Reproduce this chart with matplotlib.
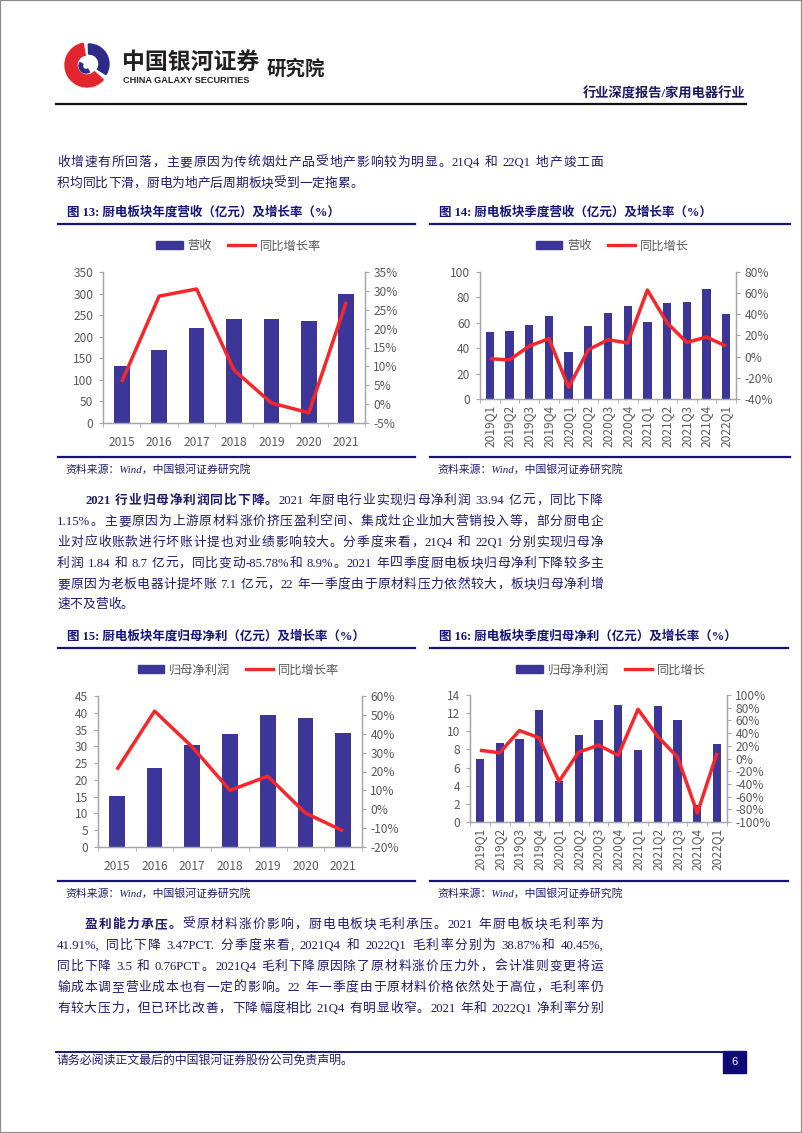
import numpy as np
import matplotlib
matplotlib.use('Agg')
import matplotlib.pyplot as plt
from matplotlib.patches import Rectangle, Wedge
from matplotlib.lines import Line2D
from matplotlib.ticker import FuncFormatter

plt.rcParams['axes.unicode_minus'] = False

# ---- data ----
years = ['2015', '2016', '2017', '2018', '2019', '2020', '2021']
quarters = ['2019Q1', '2019Q2', '2019Q3', '2019Q4', '2020Q1', '2020Q2', '2020Q3',
            '2020Q4', '2021Q1', '2021Q2', '2021Q3', '2021Q4', '2022Q1']

rev_year = [131, 169, 221, 241, 241, 236, 300]
rev_year_yoy = [5.9, 28.6, 30.5, 9.0, 0.3, -2.3, 27.1]

rev_q = [52.6, 53.7, 58.2, 65.0, 37.1, 57.4, 67.6, 73.2, 60.8, 75.8, 76.0, 86.6, 67.1]
rev_q_yoy = [-2, -3, 10, 17, -29, 6.5, 16, 13, 63, 32, 13.5, 18.5, 10]

np_year = [15.3, 23.4, 30.5, 33.6, 39.2, 38.5, 33.94]
np_year_yoy = [21, 52, 33, 10, 17.5, -2, -11.5]

np_q = [7.0, 8.7, 9.2, 12.4, 4.5, 9.6, 11.2, 12.9, 7.95, 12.8, 11.2, 1.84, 8.65]
np_q_yoy = [13, 9, 44, 32.5, -36, 10, 21, 5, 77.5, 34.5, 2, -85.78, 8.9]

W, H = 802, 1133
BAR = '#3C3698'
RED = '#F7262B'
NAVY = '#14137A'
TXT = '#1F1B6E'
GRAY = '#595959'
CH = ['Noto Sans CJK SC', 'DejaVu Sans']
BODY = ['Liberation Serif', 'Noto Sans CJK SC']


def fx(x):
    return x / W


def fy(y):
    return 1 - y / H


fig = plt.figure(figsize=(W / 100, H / 100), dpi=100)
renderer = fig.canvas.get_renderer()

# page border
fig.patches.append(Rectangle((0, 0), 1, 1, transform=fig.transFigure, fill=False,
                             ec='#8C8C8C', lw=1.6))

# ---- header ----
lax = fig.add_axes([fx(62), fy(88), 51 / W, 46 / H])
lax.set_xlim(0, 51)
lax.set_ylim(0, 46)
lax.axis('off')
lax.add_patch(Wedge((25, 23), 22, 100, 318, width=12, color='#E1262D'))
lax.add_patch(Wedge((27, 24), 20, -32, 92, width=10, color='#2D2A88'))
lax.add_patch(Wedge((24, 22), 7, 150, 300, width=3.5, color='#2D2A88'))

fig.text(fx(122), fy(62), '中国银河证券', family=CH, fontsize=16.5, weight='bold',
         color='#231F20', va='center', ha='left')
fig.text(fx(123), fy(80.5), 'CHINA GALAXY SECURITIES', family='Liberation Sans',
         fontsize=6.6, weight='bold', color='#231F20', va='center', ha='left')
fig.text(fx(267), fy(69), '研究院', family=CH, fontsize=14, weight='bold',
         color='#231F20', va='center', ha='left')
fig.text(fx(745), fy(94), '行业深度报告/家用电器行业', family=BODY, fontsize=9.5,
         weight='bold', color='#1C1A5E', va='center', ha='right')
fig.add_artist(Line2D([fx(56), fx(746)], [fy(104), fy(104)], color='#111111', lw=1.6))


# ---- body text ----
def tokenize(s):
    toks, buf = [], ''
    for ch in s:
        if ord(ch) > 0x2E80 or ch == ' ':
            if buf:
                toks.append(buf)
                buf = ''
            toks.append(ch)
        else:
            buf += ch
    if buf:
        toks.append(buf)
    return toks


def line(segs, y, x0=57, x1=603, justify=True, size=9.2):
    items = []
    for s, bold in segs:
        items += [(t, bold) for t in tokenize(s)]
    objs, widths = [], []
    base = y + size * 100 / 72 * 0.36
    for tok, bold in items:
        if tok == ' ':
            objs.append(None)
            widths.append(size * 100 / 72 * 0.25)
            continue
        t = fig.text(0, fy(base), tok, fontsize=size, family=BODY,
                     weight='bold' if bold else 'normal', color=TXT,
                     va='baseline', ha='left')
        objs.append(t)
        widths.append(t.get_window_extent(renderer).width)
    gap = 0
    if justify and len(items) > 1:
        gap = (x1 - x0 - sum(widths)) / (len(items) - 1)
    x = x0
    for t, w in zip(objs, widths):
        if t is not None:
            t.set_x(fx(x))
        x += w + gap


line([('收增速有所回落，主要原因为传统烟灶产品受地产影响较为明显。21Q4 和 22Q1 地产竣工面', False)], 161)
line([('积均同比下滑，厨电为地产后周期板块受到一定拖累。', False)], 182, justify=False)

line([('2021 行业归母净利润同比下降。', True),
      ('2021 年厨电行业实现归母净利润 33.94 亿元，同比下降', False)], 499, x0=85)
line([('1.15%。主要原因为上游原材料涨价挤压盈利空间、集成灶企业加大营销投入等，部分厨电企', False)], 520)
line([('业对应收账款进行坏账计提也对业绩影响较大。分季度来看，21Q4 和 22Q1 分别实现归母净', False)], 541)
line([('利润 1.84 和 8.7 亿元，同比变动-85.78%和 8.9%。2021 年四季度厨电板块归母净利下降较多主', False)], 562)
line([('要原因为老板电器计提坏账 7.1 亿元，22 年一季度由于原材料压力依然较大，板块归母净利增', False)], 583)
line([('速不及营收。', False)], 603, justify=False)

line([('盈利能力承压。', True),
      ('受原材料涨价影响，厨电电板块毛利承压。2021 年厨电板块毛利率为', False)], 923, x0=85)
line([('41.91%, 同比下降 3.47PCT. 分季度来看, 2021Q4 和 2022Q1 毛利率分别为 38.87%和 40.45%,', False)], 944)
line([('同比下降 3.5 和 0.76PCT。2021Q4 毛利下降原因除了原材料涨价压力外，会计准则变更将运', False)], 965)
line([('输成本调至营业成本也有一定的影响。22 年一季度由于原材料价格依然处于高位，毛利率仍', False)], 986)
line([('有较大压力，但已环比改善，下降幅度相比 21Q4 有明显收窄。2021 年和 2022Q1 净利率分别', False)], 1007)

# ---- footer ----
fig.add_artist(Line2D([fx(56), fx(746)], [fy(1052), fy(1052)], color=NAVY, lw=1.4))
fig.text(fx(57), fy(1062), '请务必阅读正文最后的中国银河证券股份公司免责声明。', family=BODY,
         fontsize=8.6, color=TXT, va='center', ha='left')
fig.patches.append(Rectangle((fx(723), fy(1073)), 23 / W, 22 / H, transform=fig.transFigure,
                             color='#0D0A78'))
fig.text(fx(734.5), fy(1062), '6', family='Liberation Sans', fontsize=8, color='white',
         va='center', ha='center')


# ---- charts ----
def chart(cats, bars, yoy, box, lims, rlims, title, legend, tx, lx0, lx1, ty, rotate):
    left, right, top, bottom = box
    ax = fig.add_axes([fx(left), fy(bottom), (right - left) / W, (bottom - top) / H])
    x = np.arange(len(cats))
    ax.bar(x, bars, width=0.42, color=BAR, zorder=2)
    ax.set_xlim(-0.5, len(cats) - 0.5)
    ax.set_ylim(lims[0], lims[1])
    ax.set_yticks(np.arange(lims[0], lims[1] + 0.01, lims[2]))
    ax.set_xticks(x)
    if rotate:
        ax.set_xticklabels(cats, rotation=90, va='top', ha='center')
        ax.tick_params(axis='x', length=0, pad=4)
    else:
        ax.set_xticklabels(cats)
        ax.tick_params(axis='x', length=0, pad=9)
    ax.set_xticks(np.arange(-0.5, len(cats)), minor=True)
    ax.tick_params(axis='x', which='minor', length=3, direction='out', color='#A6A6A6')
    ax.tick_params(axis='y', length=3, direction='out', color='#A6A6A6', pad=4)
    ax.tick_params(labelsize=8.6, labelcolor=GRAY)
    ax2 = ax.twinx()
    ax2.plot(x, yoy, color=RED, lw=2.5, solid_joinstyle='round', solid_capstyle='butt', zorder=3)
    ax2.set_ylim(rlims[0], rlims[1])
    ax2.set_yticks(np.arange(rlims[0], rlims[1] + 0.01, rlims[2]))
    ax2.yaxis.set_major_formatter(FuncFormatter(lambda v, p: f'{v:.0f}%'))
    ax2.tick_params(axis='y', length=3, direction='out', color='#A6A6A6', pad=3,
                    labelsize=8.6, labelcolor=GRAY)
    for a in (ax, ax2):
        for s in a.spines.values():
            s.set_color('#A6A6A6')
            s.set_linewidth(0.9)
        a.spines['top'].set_visible(False)
        a.patch.set_alpha(0)
        for lab in a.get_xticklabels() + a.get_yticklabels():
            lab.set_family(CH)

    # title block
    fig.text(fx(tx), fy(ty), title, family=BODY, fontsize=9, weight='bold', color=NAVY,
             va='center', ha='left')
    fig.add_artist(Line2D([fx(lx0), fx(lx1)], [fy(ty + 12), fy(ty + 12)], color=NAVY, lw=1.6))
    fig.add_artist(Line2D([fx(lx0), fx(lx1)], [fy(ty + 245), fy(ty + 245)], color=NAVY, lw=1.6))
    fig.text(fx(tx - 2), fy(ty + 257), '资料来源：Wind，中国银河证券研究院', family=BODY,
             fontsize=7.8, style='italic', color=TXT, va='center', ha='left')

    handles = [Rectangle((0, 0), 1, 1, color=BAR), Line2D([0], [0], color=RED, lw=2.4)]
    fig.legend(handles, legend, loc='center', bbox_to_anchor=(fx((lx0 + lx1) / 2 + 2), fy(ty + 34)),
               ncol=2, frameon=False, handlelength=2.2, handleheight=0.6, handletextpad=0.4,
               columnspacing=1.3, prop={'family': CH, 'size': 8.8}, labelcolor=GRAY)


chart(years, rev_year, rev_year_yoy, (103, 365, 272, 423), (0, 350, 50), (-5, 35, 5),
      '图 13: 厨电板块年度营收（亿元）及增长率（%）', ['营收', '同比增长率'],
      67, 58, 415, 212, False)
chart(quarters, rev_q, rev_q_yoy, (480, 736, 272, 399), (0, 100, 20), (-40, 80, 20),
      '图 14: 厨电板块季度营收（亿元）及增长率（%）', ['营收', '同比增长'],
      439, 430, 790, 212, True)
chart(years, np_year, np_year_yoy, (98, 362, 696, 847), (0, 45, 5), (-20, 60, 10),
      '图 15: 厨电板块年度归母净利（亿元）及增长率（%）', ['归母净利润', '同比增长率'],
      67, 58, 415, 636, False)
chart(quarters, np_q, np_q_yoy, (470, 727, 695, 822), (0, 14, 2), (-100, 100, 20),
      '图 16: 厨电板块季度归母净利（亿元）及增长率（%）', ['归母净利润', '同比增长'],
      439, 430, 788, 636, True)

fig.savefig('out.png', dpi=100)
